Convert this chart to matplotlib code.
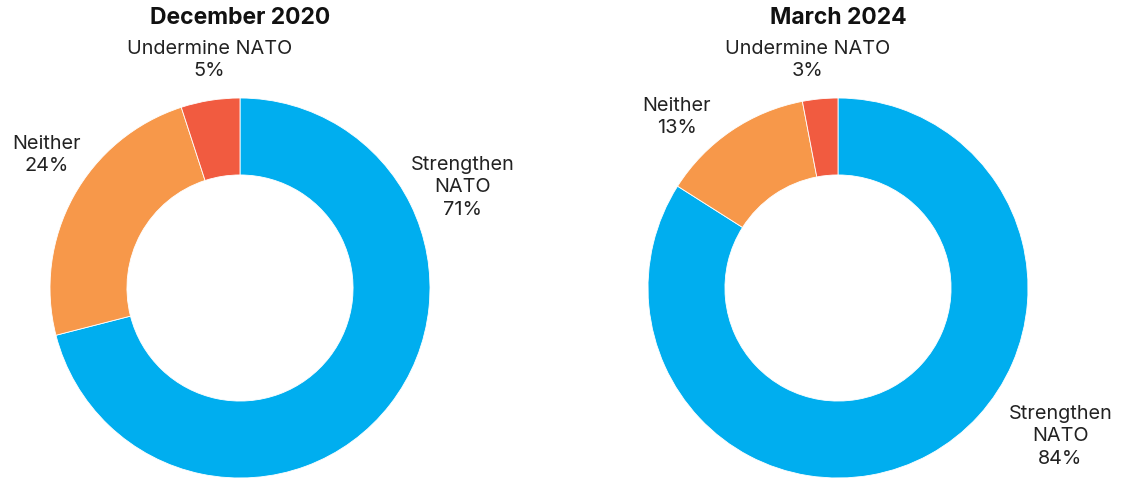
import matplotlib
matplotlib.use("Agg")
import matplotlib.pyplot as plt

plt.rcParams['font.family'] = ['Inter', 'DejaVu Sans']

categories = ["Strengthen\nNATO", "Neither", "Undermine NATO"]
titles = ["December 2020", "March 2024"]
values_2020 = [71, 24, 5]
values_2024 = [84, 13, 3]
colors = ["#00AEEF", "#F7984A", "#F15B40"]

# label anchor positions in pie units (radius 1)
label_pos = [
    [(1.17, 0.53), (-1.02, 0.70), (-0.16, 1.20)],
    [(1.17, -0.78), (-0.85, 0.90), (-0.16, 1.20)],
]

W, H = 1123, 480
fig = plt.figure(figsize=(W / 100, H / 100), dpi=100)

centers = [240, 838]
R = 190
for i, (vals, title) in enumerate(zip([values_2020, values_2024], titles)):
    cx = centers[i]
    ax = fig.add_axes([(cx - R) / W, (H - 288 - R) / H, 2 * R / W, 2 * R / H])
    ax.pie(vals, colors=colors, startangle=90, counterclock=False,
           radius=1, wedgeprops=dict(width=0.405, edgecolor="white", linewidth=0.6))
    ax.set_xlim(-1, 1)
    ax.set_ylim(-1, 1)
    ax.set_aspect("equal")
    ax.axis("off")
    for cat, v, (x, y) in zip(categories, vals, label_pos[i]):
        ax.text(x, y, "%s\n%d%%" % (cat, v), ha="center", va="center",
                fontsize=14.3, color="#222222", linespacing=1.32)
    ax.text(0, 1.42, title, ha="center", va="center", fontsize=16.5,
            fontweight="bold", color="#111111")

fig.savefig("out.png", dpi=100)
